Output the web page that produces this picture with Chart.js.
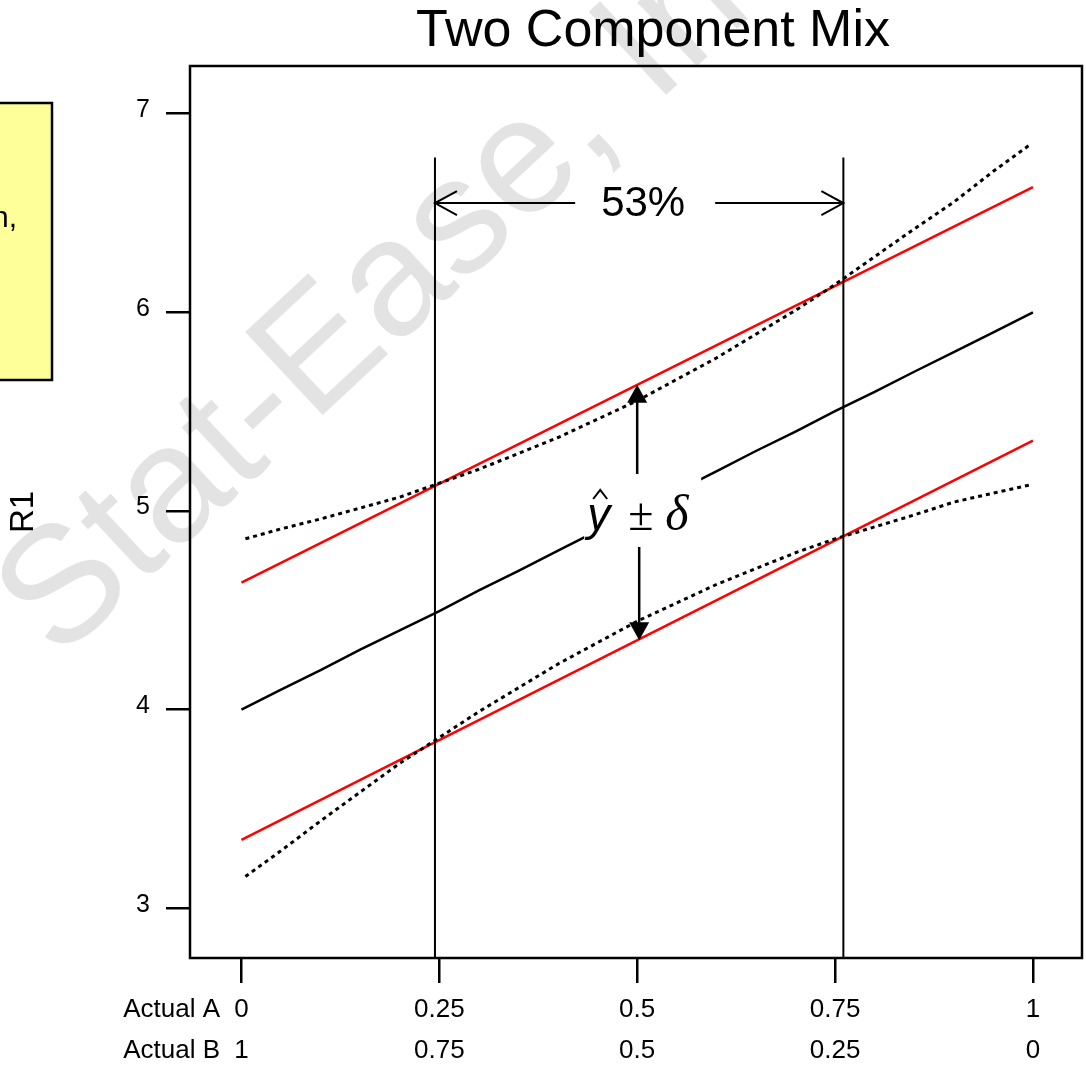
<!DOCTYPE html>
<html>
<head>
<meta charset="utf-8">
<script src="https://cdn.jsdelivr.net/npm/chart.js@4"></script>
<style>
  html, body { margin: 0; padding: 0; background: #fff; }
  #wrap { width: 1086px; height: 1076px; position: relative; }
</style>
</head>
<body>
<div id="wrap"><canvas id="mixChart"></canvas></div>
<script>
// axis ticks
const xTicks = [0, 0.25, 0.5, 0.75, 1];
const actualA = ['0', '0.25', '0.5', '0.75', '1'];
const actualB = ['1', '0.75', '0.5', '0.25', '0'];
const yTicks = [3, 4, 5, 6, 7];

// predicted response R1
const predX = [0, 0.05, 0.1, 0.15, 0.2, 0.25, 0.3, 0.35, 0.4, 0.45, 0.5, 0.55, 0.6, 0.65, 0.7, 0.75, 0.8, 0.85, 0.9, 0.95, 1];
const predY = [4.00, 4.101, 4.199, 4.302, 4.399, 4.496, 4.601, 4.699, 4.80, 4.901, 5.00, 5.099, 5.20, 5.302, 5.40, 5.503, 5.60, 5.701, 5.80, 5.899, 6.00];

// tolerance band (red)
const bandX = [0, 1];
const bandHi = [4.64, 6.63];
const bandLo = [3.345, 5.354];

// confidence interval (dotted)
const ciX = [0.005, 0.05, 0.1, 0.15, 0.2, 0.25, 0.3, 0.4, 0.5, 0.6, 0.7, 0.75, 0.8, 0.85, 0.9, 0.95, 0.995];
const ciHi = [4.86, 4.91, 4.96, 5.015, 5.07, 5.14, 5.21, 5.37, 5.555, 5.77, 6.01, 6.14, 6.28, 6.42, 6.555, 6.71, 6.84];
const ciLo = [3.16, 3.29, 3.44, 3.585, 3.73, 3.86, 3.99, 4.23, 4.445, 4.63, 4.79, 4.86, 4.92, 4.98, 5.045, 5.09, 5.13];

// design space cut lines
const cutX = [0.2445, 0.7605];
const cutTop = 6.78;
const cutLabel = '53%';
const cutArrowY = 6.55;

const pts = (xs, ys) => xs.map((x, i) => ({ x: x, y: ys[i] }));
const FONT = '"Liberation Sans", Arial, Helvetica, sans-serif';
const SERIF = '"Liberation Serif", "Times New Roman", serif';
const LINE_H = 41, TICK_LEN = 25, TICK_PAD = 6;

function arrowHead(c, x, y, dx, dy, len, half, filled) {
  const px = -dy, py = dx;
  c.beginPath();
  c.moveTo(x - dx * len + px * half, y - dy * len + py * half);
  c.lineTo(x, y);
  c.lineTo(x - dx * len - px * half, y - dy * len - py * half);
  if (filled) { c.closePath(); c.fill(); } else { c.stroke(); }
}

const decor = {
  id: 'decor',
  beforeDraw(chart) {
    const c = chart.ctx;
    c.save();
    c.fillStyle = '#fff';
    c.fillRect(0, 0, chart.width, chart.height);
    // watermark
    c.save();
    c.translate(58, 662);
    c.rotate(-43 * Math.PI / 180);
    c.font = '165px ' + FONT;
    c.fillStyle = '#e3e3e3';
    c.fillText('Stat-Ease, Inc.', 0, 0);
    c.restore();
    // note box cut at the left edge
    c.fillStyle = '#ffff99';
    c.fillRect(-5, 103, 57, 277);
    c.lineWidth = 2.5;
    c.strokeStyle = '#000';
    c.strokeRect(-5, 103, 57, 277);
    c.fillStyle = '#000';
    c.font = '30px ' + FONT;
    c.textAlign = 'right';
    c.fillText('n,', 17, 227);
    c.restore();
  },
  afterDatasetsDraw(chart) {
    const c = chart.ctx;
    const xs = chart.scales.x, ys = chart.scales.y;
    const a = chart.chartArea;
    c.save();
    c.strokeStyle = '#000';
    c.fillStyle = '#000';
    c.lineWidth = 2.5;
    c.strokeRect(a.left, a.top, a.right - a.left, a.bottom - a.top);

    // 53% arrow
    c.lineWidth = 2;
    const x1 = xs.getPixelForValue(cutX[0]);
    const x2 = xs.getPixelForValue(cutX[1]);
    const ay = ys.getPixelForValue(cutArrowY);
    const cx = (x1 + x2) / 2 + 4;
    c.beginPath();
    c.moveTo(cx - 68, ay); c.lineTo(x1, ay);
    c.moveTo(cx + 72, ay); c.lineTo(x2, ay);
    c.stroke();
    arrowHead(c, x1, ay, -1, 0, 22, 12, false);
    arrowHead(c, x2, ay, 1, 0, 22, 12, false);
    c.font = '42px ' + FONT;
    c.textAlign = 'center';
    c.textBaseline = 'alphabetic';
    c.fillText(cutLabel, cx, ay + 13);

    // y-hat +/- delta label
    const mx = xs.getPixelForValue(0.5);
    c.fillStyle = '#fff';
    c.fillRect(mx - 53, 474, 117, 73);
    c.fillStyle = '#000';
    c.textAlign = 'left';
    c.font = 'italic 46px ' + FONT;
    c.fillText('y', mx - 50, 530);
    c.beginPath();
    c.moveTo(mx - 44, 499); c.lineTo(mx - 37, 490); c.lineTo(mx - 30, 499);
    c.stroke();
    c.font = '46px ' + SERIF;
    c.fillText('\u00B1', mx - 9, 530);
    c.font = 'italic 50px ' + SERIF;
    c.fillText('\u03B4', mx + 28, 530);

    const upTip = ys.getPixelForValue((bandHi[0] + bandHi[1]) / 2);
    const loTip = ys.getPixelForValue((bandLo[0] + bandLo[1]) / 2);
    c.lineWidth = 2.5;
    c.beginPath();
    c.moveTo(mx, 474); c.lineTo(mx, upTip + 15);
    c.moveTo(mx + 2, 547); c.lineTo(mx + 2, loTip - 15);
    c.stroke();
    arrowHead(c, mx, upTip, 0, -1, 18, 10, true);
    arrowHead(c, mx + 2, loTip, 0, 1, 18, 10, true);
    c.restore();
  },
  afterDraw(chart) {
    const c = chart.ctx;
    const xs = chart.scales.x;
    c.save();
    c.fillStyle = '#000';
    c.font = '52px ' + FONT;
    c.textAlign = 'center';
    c.fillText('Two Component Mix', 653, 46);
    c.font = '26px ' + FONT;
    c.textAlign = 'right';
    c.textBaseline = 'middle';
    const row1 = xs.top + TICK_LEN + TICK_PAD + LINE_H / 2;
    c.fillText('Actual A', 220, row1);
    c.fillText('Actual B', 220, row1 + LINE_H);
    c.restore();
  }
};

const solid = (data, color) => ({
  data: data, borderColor: color, borderWidth: 2.5, pointRadius: 0, tension: 0, fill: false
});

new Chart(document.getElementById('mixChart').getContext('2d'), {
  type: 'line',
  data: {
    datasets: [
      Object.assign(solid(pts([cutX[0], cutX[0]], [cutTop, 2.75]), '#000'), { borderWidth: 2 }),
      Object.assign(solid(pts([cutX[1], cutX[1]], [cutTop, 2.75]), '#000'), { borderWidth: 2 }),
      Object.assign(solid(pts(ciX, ciHi), '#000'), { borderDash: [4, 4], borderWidth: 3 }),
      Object.assign(solid(pts(ciX, ciLo), '#000'), { borderDash: [4, 4], borderWidth: 3 }),
      solid(pts(bandX, bandHi), '#ff0000'),
      solid(pts(bandX, bandLo), '#ff0000'),
      solid(pts(predX, predY), '#000')
    ]
  },
  options: {
    responsive: true,
    maintainAspectRatio: false,
    animation: false,
    layout: { padding: { top: 66, right: 4, bottom: 0, left: 0 } },
    plugins: { legend: { display: false }, tooltip: { enabled: false } },
    scales: {
      x: {
        type: 'linear',
        min: -0.065,
        max: 1.062,
        afterBuildTicks: s => { s.ticks = xTicks.map(v => ({ value: v })); },
        afterFit: s => { s.height = 118; },
        border: { display: false },
        grid: { drawOnChartArea: false, drawTicks: true, tickLength: TICK_LEN, color: '#000', lineWidth: 2.5 },
        ticks: {
          color: '#000',
          font: { family: FONT, size: 26, lineHeight: LINE_H / 26 },
          padding: TICK_PAD,
          maxRotation: 0,
          autoSkip: false,
          callback: (v) => { const i = xTicks.indexOf(v); return [actualA[i], actualB[i]]; }
        }
      },
      y: {
        type: 'linear',
        min: 2.75,
        max: 7.24,
        afterBuildTicks: s => { s.ticks = yTicks.map(v => ({ value: v })); },
        afterFit: s => { s.width = 190; },
        border: { display: false },
        grid: { drawOnChartArea: false, drawTicks: true, tickLength: 24, color: '#000', lineWidth: 2.5 },
        ticks: {
          color: '#000',
          font: { family: FONT, size: 25, lineHeight: 7 / 25 },
          padding: 16,
          autoSkip: false,
          callback: v => [String(v), '']
        },
        title: { display: true, text: 'R1', color: '#000', font: { family: FONT, size: 33 } }
      }
    }
  },
  plugins: [decor]
});
</script>
</body>
</html>
